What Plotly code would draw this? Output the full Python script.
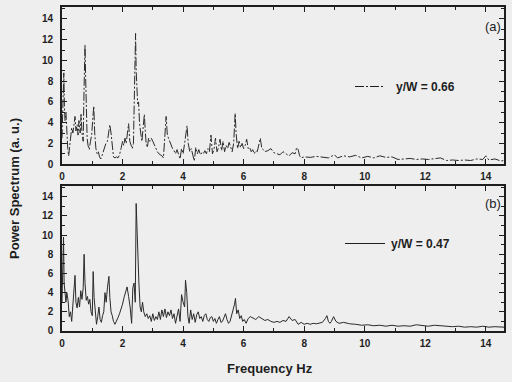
import plotly.graph_objects as go
from plotly.subplots import make_subplots

# ---- panel (a): y/W = 0.66 ----
freq_a = [
    0.00, 0.03, 0.06, 0.08, 0.10, 0.13, 0.16, 0.19, 0.22, 0.25,
    0.28, 0.32, 0.36, 0.40, 0.43, 0.46, 0.50, 0.53, 0.56, 0.60,
    0.63, 0.66, 0.70, 0.73, 0.76, 0.78, 0.80, 0.83, 0.86, 0.90,
    0.94, 0.98, 1.02, 1.05, 1.08, 1.12, 1.16, 1.20, 1.24, 1.28,
    1.32, 1.36, 1.40, 1.45, 1.50, 1.55, 1.58, 1.62, 1.66, 1.70,
    1.75, 1.80, 1.85, 1.90, 1.95, 2.00, 2.04, 2.08, 2.12, 2.16,
    2.20, 2.24, 2.28, 2.32, 2.36, 2.40, 2.43, 2.45, 2.47, 2.50,
    2.53, 2.56, 2.60, 2.64, 2.68, 2.72, 2.75, 2.78, 2.82, 2.86,
    2.90, 2.95, 3.00, 3.05, 3.10, 3.15, 3.20, 3.25, 3.30, 3.35,
    3.40, 3.44, 3.48, 3.52, 3.56, 3.60, 3.65, 3.70, 3.75, 3.80,
    3.85, 3.90, 3.95, 4.00, 4.05, 4.10, 4.13, 4.17, 4.22, 4.27,
    4.32, 4.37, 4.42, 4.47, 4.52, 4.57, 4.62, 4.67, 4.72, 4.77,
    4.82, 4.87, 4.92, 4.97, 5.02, 5.07, 5.12, 5.17, 5.22, 5.27,
    5.32, 5.37, 5.42, 5.47, 5.52, 5.57, 5.62, 5.67, 5.72, 5.75,
    5.80, 5.85, 5.90, 5.95, 6.00, 6.05, 6.10, 6.15, 6.20, 6.25,
    6.30, 6.35, 6.40, 6.45, 6.50, 6.55, 6.60, 6.65, 6.70, 6.80,
    6.90, 7.00, 7.10, 7.20, 7.30, 7.40, 7.50, 7.60, 7.70, 7.75,
    7.80, 7.85, 7.90, 8.00, 8.20, 8.40, 8.60, 8.80, 9.00, 9.10,
    9.30, 9.50, 9.70, 9.90, 10.10, 10.30, 10.50, 10.70, 10.90, 11.10,
    11.30, 11.50, 11.70, 11.90, 12.10, 12.30, 12.50, 12.70, 12.90, 13.10,
    13.30, 13.50, 13.70, 13.90, 14.00, 14.10, 14.30, 14.50, 14.60,
]
power_a = [
    2.5, 6.0, 8.8, 5.5, 4.2, 5.0, 2.5, 1.5, 0.8, 1.8,
    2.5, 3.5, 3.0, 4.0, 4.6, 3.2, 3.8, 2.8, 4.2, 3.0,
    4.8, 3.0, 2.2, 7.5, 11.5, 8.5, 4.0, 2.5, 1.8, 1.4,
    2.2, 2.8, 4.5, 5.6, 3.0, 1.5, 1.0, 1.2, 0.7, 0.5,
    0.8, 1.2, 1.6, 2.0, 2.2, 3.4, 3.8, 3.0, 1.5, 0.7,
    0.6, 0.7, 0.6, 0.9, 1.5, 2.2, 1.8, 2.5, 2.0, 2.8,
    3.9, 2.2, 1.8, 1.5, 2.0, 6.5, 12.6, 9.0, 7.0, 5.8,
    6.0, 4.0, 3.0, 2.2, 3.5, 4.8, 3.2, 2.0, 1.6, 2.5,
    2.2, 2.5, 2.2, 1.8, 1.5, 1.2, 1.0, 0.9, 0.8, 0.6,
    2.5, 4.6, 2.8, 2.5, 2.0, 1.8, 1.5, 1.3, 1.0, 1.4,
    0.9, 0.5, 1.5, 1.0, 2.0, 3.0, 3.7, 2.0, 1.2, 1.5,
    0.8, 0.3, 1.6, 1.0, 1.4, 0.9, 1.1, 1.0, 1.3, 1.0,
    1.5, 1.2, 2.8, 1.0, 1.4, 2.5, 1.2, 1.6, 2.4, 1.3,
    2.2, 1.2, 1.8, 1.5, 2.1, 1.5, 1.2, 2.0, 4.9, 3.0,
    1.5, 2.2, 1.6, 2.0, 1.5, 1.8, 2.4, 1.5, 1.6, 1.2,
    1.4, 1.0, 1.3, 1.2, 1.8, 2.5, 1.5, 1.4, 1.2, 1.3,
    1.5, 1.1, 1.0, 0.9, 1.2, 1.0, 0.8, 1.1, 1.0, 1.6,
    1.4, 0.8, 0.6, 0.7, 0.65, 0.75, 0.7, 0.6, 0.9, 0.6,
    0.8, 0.7, 0.85, 0.6, 0.75, 0.6, 0.8, 0.65, 0.7, 0.45,
    0.5, 0.55, 0.45, 0.5, 0.45, 0.5, 0.6, 0.35, 0.4, 0.35,
    0.4, 0.35, 0.5, 0.45, 0.8, 0.4, 0.5, 0.3, 0.35,
]

# ---- panel (b): y/W = 0.47 ----
freq_b = [
    0.00, 0.03, 0.05, 0.07, 0.10, 0.13, 0.16, 0.20, 0.24, 0.28,
    0.32, 0.36, 0.40, 0.43, 0.46, 0.50, 0.54, 0.58, 0.62, 0.66,
    0.70, 0.73, 0.76, 0.80, 0.84, 0.88, 0.92, 0.96, 1.00, 1.03,
    1.06, 1.10, 1.14, 1.18, 1.22, 1.26, 1.30, 1.34, 1.38, 1.42,
    1.46, 1.50, 1.55, 1.58, 1.62, 1.66, 1.70, 1.75, 1.80, 1.85,
    1.90, 1.95, 2.00, 2.05, 2.10, 2.15, 2.20, 2.25, 2.30, 2.34,
    2.38, 2.42, 2.45, 2.48, 2.51, 2.54, 2.58, 2.62, 2.66, 2.70,
    2.75, 2.80, 2.85, 2.90, 2.95, 3.00, 3.05, 3.10, 3.15, 3.20,
    3.25, 3.30, 3.35, 3.40, 3.45, 3.50, 3.55, 3.60, 3.65, 3.70,
    3.75, 3.80, 3.85, 3.90, 3.95, 4.00, 4.05, 4.08, 4.12, 4.16,
    4.20, 4.25, 4.30, 4.35, 4.40, 4.45, 4.50, 4.55, 4.60, 4.65,
    4.70, 4.75, 4.80, 4.85, 4.90, 4.95, 5.00, 5.05, 5.10, 5.15,
    5.20, 5.25, 5.30, 5.35, 5.40, 5.45, 5.50, 5.55, 5.60, 5.65,
    5.70, 5.73, 5.77, 5.82, 5.87, 5.92, 5.97, 6.02, 6.08, 6.15,
    6.22, 6.30, 6.40, 6.50, 6.60, 6.70, 6.80, 6.90, 7.00, 7.10,
    7.20, 7.30, 7.40, 7.50, 7.60, 7.70, 7.80, 7.90, 8.00, 8.10,
    8.20, 8.30, 8.40, 8.50, 8.60, 8.70, 8.75, 8.80, 8.85, 8.90,
    8.97, 9.05, 9.15, 9.30, 9.50, 9.70, 9.90, 10.10, 10.30, 10.50,
    10.70, 10.90, 11.10, 11.30, 11.50, 11.70, 11.90, 12.10, 12.30, 12.50,
    12.70, 12.90, 13.10, 13.30, 13.50, 13.70, 13.90, 14.10, 14.30, 14.60,
]
power_b = [
    3.0, 7.0, 9.8, 5.0, 3.5, 3.0, 4.0, 3.2, 1.5, 2.0,
    1.0, 2.8, 3.5, 5.8, 3.0, 2.4, 3.5, 2.5, 4.2, 3.3,
    4.5, 8.0, 5.0, 3.2, 3.6, 2.8, 3.3, 2.0, 1.6, 6.2,
    3.5, 1.8, 0.7, 1.5, 2.5, 1.2, 0.9, 1.6, 2.0, 4.0,
    3.0, 4.5, 5.7, 3.5, 2.0, 1.6, 1.0, 0.7, 1.0, 1.4,
    1.8, 2.2, 2.8, 3.5, 4.0, 4.6, 3.6, 2.5, 0.8, 4.5,
    5.0, 3.0, 13.3, 9.5, 7.5, 5.0, 2.5, 2.0, 3.0, 2.0,
    1.5, 1.8, 1.3, 1.6, 1.0, 1.8, 1.1, 1.5, 1.2, 2.0,
    1.2, 2.2, 1.5, 2.3, 1.4, 2.0, 1.6, 2.2, 1.3, 1.8,
    0.8, 1.5, 2.3, 1.0, 3.8, 3.0, 2.5, 5.3, 4.0, 1.5,
    0.8, 2.2, 1.2, 1.8, 0.9, 1.7, 2.0, 1.3, 1.5, 1.0,
    1.6, 1.8, 1.2, 1.0, 1.4, 1.5, 1.0, 1.3, 0.8, 1.2,
    1.5, 0.9, 1.0, 1.4, 1.8, 1.2, 0.8, 1.0, 1.5, 2.2,
    2.8, 3.4, 1.8, 2.2, 1.3, 1.6, 1.0, 1.2, 0.8, 1.3,
    1.5, 1.4, 1.2, 1.5, 1.3, 1.1, 1.2, 1.0, 0.9, 1.0,
    0.9, 1.1, 1.0, 1.5, 1.1, 1.2, 0.7, 0.9, 0.7, 0.8,
    0.7, 0.8, 0.75, 0.8, 0.9, 1.3, 1.6, 1.0, 0.8, 1.0,
    1.5, 1.0, 0.8, 0.9, 0.75, 0.7, 0.6, 0.65, 0.55, 0.6,
    0.5, 0.6, 0.5, 0.55, 0.5, 0.65, 0.6, 0.5, 0.6, 0.55,
    0.5, 0.45, 0.5, 0.4, 0.45, 0.4, 0.5, 0.4, 0.45, 0.4,
]

x_ticks = [0, 2, 4, 6, 8, 10, 12, 14]
y_ticks = [0, 2, 4, 6, 8, 10, 12, 14]
label_a = "y/W = 0.66"
label_b = "y/W = 0.47"

FONT = "Liberation Sans"
INK = "#1e1e1e"
LINE_INK = "#2a2a2a"
BG = "#eeeeee"

fig = make_subplots(rows=2, cols=1, shared_xaxes=False, vertical_spacing=0.0)

fig.add_trace(go.Scatter(x=freq_a, y=power_a, mode="lines",
                         line=dict(color=LINE_INK, width=1.0, dash="9px,2px,2px,2px"),
                         showlegend=False, hoverinfo="skip"), row=1, col=1)
fig.add_trace(go.Scatter(x=freq_b, y=power_b, mode="lines",
                         line=dict(color=LINE_INK, width=1.0),
                         showlegend=False, hoverinfo="skip"), row=2, col=1)

axis_common = dict(showline=True, linewidth=1.6, linecolor=INK, mirror="allticks",
                   ticks="inside", ticklen=5, tickwidth=1.3, tickcolor=INK,
                   showgrid=False, zeroline=False,
                   tickfont=dict(family=FONT, size=10, color=INK, weight="bold"))
minor_ticks = dict(dtick=1, ticks="inside", ticklen=3, tickcolor=INK, tickwidth=1)

for r in (1, 2):
    fig.update_xaxes(range=[0, 14.6], tickvals=x_ticks, showticklabels=True,
                     ticklabelstandoff=2, minor=minor_ticks,
                     row=r, col=1, **axis_common)
fig.update_yaxes(range=[0, 15.15], tickvals=y_ticks, ticklabelstandoff=5,
                 minor=minor_ticks, row=1, col=1, **axis_common)
fig.update_yaxes(range=[0, 15.14], tickvals=y_ticks, ticklabelstandoff=5,
                 minor=minor_ticks, row=2, col=1, **axis_common)

fig.update_layout(
    yaxis=dict(domain=[0.515, 1.0]),
    yaxis2=dict(domain=[0.0, 0.448]),
)

def px(xp):
    return (xp - 62) / 442.0

def py(yp):
    return (331 - yp) / 326.0

# legend samples
fig.add_shape(type="line", xref="paper", yref="paper",
              x0=px(355), x1=px(384), y0=py(85), y1=py(85),
              line=dict(color=INK, width=1.1, dash="9px,2px,2px,2px"))
fig.add_shape(type="line", xref="paper", yref="paper",
              x0=px(345), x1=px(385), y0=py(243), y1=py(243),
              line=dict(color=INK, width=1.1))

ann_font = dict(family=FONT, size=12, color=INK, weight="bold")
fig.add_annotation(text=label_a, xref="paper", yref="paper", x=px(394), y=py(85),
                   xanchor="left", yanchor="middle", showarrow=False, font=ann_font)
fig.add_annotation(text=label_b, xref="paper", yref="paper", x=px(389), y=py(243),
                   xanchor="left", yanchor="middle", showarrow=False, font=ann_font)
fig.add_annotation(text="(a)", xref="paper", yref="paper", x=px(503), y=py(25),
                   xanchor="right", yanchor="middle", showarrow=False,
                   font=dict(family=FONT, size=13, color=INK))
fig.add_annotation(text="(b)", xref="paper", yref="paper", x=px(503), y=py(203),
                   xanchor="right", yanchor="middle", showarrow=False,
                   font=dict(family=FONT, size=13, color=INK))
fig.add_annotation(text="Power Spectrum (a. u.)", xref="paper", yref="paper",
                   x=px(15), y=py(188), textangle=-90, xanchor="center", yanchor="middle",
                   showarrow=False, font=dict(family=FONT, size=13, color=INK, weight="bold"))
fig.add_annotation(text="Frequency Hz", xref="paper", yref="paper",
                   x=px(270), y=py(369), xanchor="center", yanchor="middle",
                   showarrow=False, font=dict(family=FONT, size=13, color=INK, weight="bold"))

fig.update_layout(
    width=512, height=382,
    margin=dict(l=62, r=8, t=5, b=51),
    paper_bgcolor=BG, plot_bgcolor=BG,
    showlegend=False,
)

fig.write_html("out.html", config={"displayModeBar": False},
               post_script="document.body.style.margin='0';document.body.style.overflow='hidden';")
